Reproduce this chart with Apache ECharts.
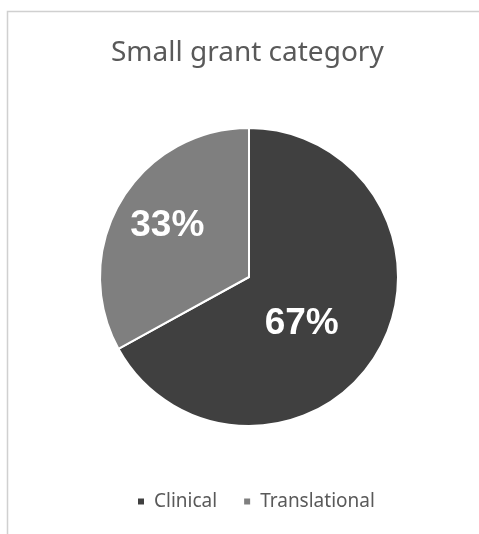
<!DOCTYPE html>
<html><head><meta charset="utf-8">
<script src="https://cdn.jsdelivr.net/npm/echarts@6/dist/echarts.min.js"></script>
<style>html,body{margin:0;padding:0;background:#fff}#c{width:479px;height:534px}</style>
</head><body><div id="c"></div>
<script>
const categories = ['Clinical', 'Translational'];
const values = [67, 33];
const colors = ['#404040', '#7f7f7f'];
const labelShift = [[-14, 7], [-15, -12]];

const chart = echarts.init(document.getElementById('c'), null, {renderer: 'canvas'});
chart.setOption({
  backgroundColor: '#ffffff',
  animation: false,
  graphic: [{
    type: 'rect', shape: {x: 7.5, y: 11.5, width: 500, height: 540},
    style: {fill: 'none', stroke: '#d0d0d0', lineWidth: 1.5}, silent: true
  }],
  title: {
    text: 'Small grant category', left: 106, top: 34,
    textStyle: {fontFamily: 'Noto Sans', fontSize: 28, fontWeight: 'normal', color: '#595959'}
  },
  legend: {
    bottom: 18, left: 131, itemWidth: 8, itemHeight: 8, itemGap: 25,
    icon: 'rect',
    textStyle: {fontFamily: 'Noto Sans', fontSize: 19, color: '#595959', padding: [0, 0, 0, 4]},
    data: categories
  },
  series: [{
    type: 'pie', center: [249, 277], radius: 149, startAngle: 90, clockwise: true,
    itemStyle: {borderColor: '#ffffff', borderWidth: 2},
    label: {
      show: true, position: 'inside', formatter: p => p.value + '%',
      fontFamily: 'Liberation Sans', fontWeight: 'bold', fontSize: 37, color: '#ffffff'
    },
    labelLayout: p => ({dx: labelShift[p.dataIndex][0], dy: labelShift[p.dataIndex][1]}),
    emphasis: {disabled: true},
    data: categories.map((c, i) => ({name: c, value: values[i], itemStyle: {color: colors[i]}}))
  }]
});
</script></body></html>
